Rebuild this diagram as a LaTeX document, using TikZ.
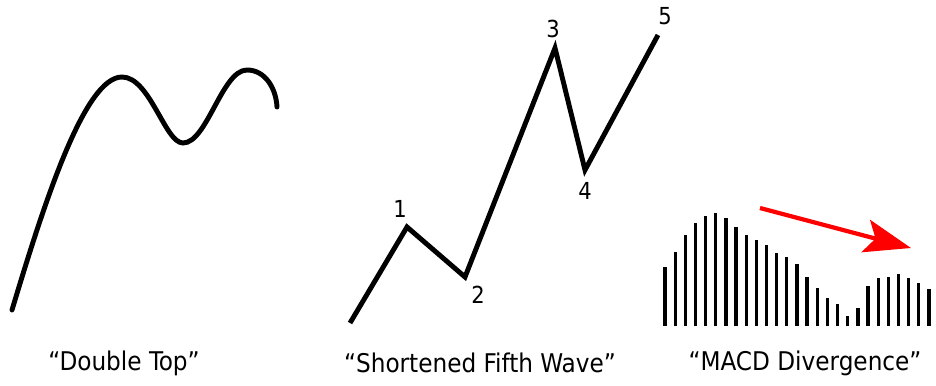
\documentclass[tikz,border=0pt]{standalone}
\usepackage{fontspec}
\setmainfont{DejaVu Sans Condensed}
\usetikzlibrary{arrows.meta}
\begin{document}
\begin{tikzpicture}[
    x=0.03cm, y=-0.03cm,
    curve/.style={line width=4.2pt, line cap=round},
    wave/.style={line width=4.2pt, line join=miter},
    bar/.style={line width=2.8pt},
    trend/.style={red, line width=3.6pt,
        -{Stealth[length=14mm,width=10mm,inset=3mm]}},
    count/.style={font=\fontsize{20}{20}\selectfont},
    caption/.style={font=\fontsize{22}{22}\selectfont}
]
\useasboundingbox (0,0) rectangle (936,385);

% Double top
\draw[curve] (12,310)
    .. controls (45,200) and (85,77) .. (122,77)
    .. controls (150,77) and (165,143) .. (183,143)
    .. controls (207,143) and (222,70) .. (247,70)
    .. controls (265,70) and (276,88) .. (277,107);

% Shortened fifth wave
\coordinate (w0) at (350,323);
\coordinate (w1) at (407,227);
\coordinate (w2) at (465,277);
\coordinate (w3) at (555,48);
\coordinate (w4) at (585,170);
\coordinate (w5) at (658,35);

\draw[wave] (w0) -- (w1) -- (w2) -- (w3) -- (w4) -- (w5);

\node[count] (n1) at (400,209) {1};
\node[count] (n2) at (478,295) {2};
\node[count] (n3) at (553,29) {3};
\node[count] (n4) at (585,191) {4};
\node[count] (n5) at (665,16) {5};

% MACD histogram
\foreach \top [count=\i] in {267,252,235,223,216,213,218,227,235,240,245,253,257,
    264,277,288,298,304,316,308,286,278,277,274,278,283,289}
    \draw[bar] ({665+(\i-1)*10.15},326) -- ({665+(\i-1)*10.15},\top);

\coordinate (trendstart) at (760,208);
\coordinate (trendend) at (911,248);
\draw[trend] (trendstart) -- (trendend);

% Captions
\node[caption] (doubletop) at (124,363) {“Double Top”};
\node[caption] (fifthwave) at (480,363) {“Shortened Fifth Wave”};
\node[caption] (divergence) at (805,363) {“MACD Divergence”};

\end{tikzpicture}
\end{document}
